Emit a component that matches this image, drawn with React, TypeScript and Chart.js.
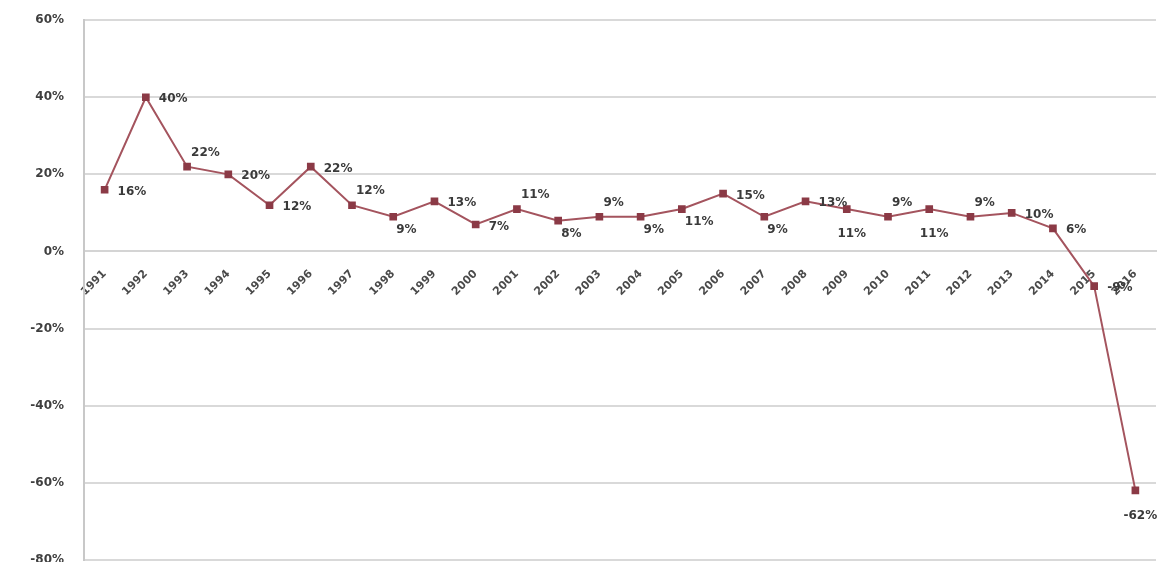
import React, { useEffect, useRef } from "react";
import { Chart, registerables } from "chart.js";

Chart.register(...registerables);

const years = [
  "1991", "1992", "1993", "1994", "1995", "1996", "1997", "1998", "1999", "2000",
  "2001", "2002", "2003", "2004", "2005", "2006", "2007", "2008", "2009", "2010",
  "2011", "2012", "2013", "2014", "2015", "2016",
];

const growth = [
  16, 40, 22, 20, 12, 22, 12, 9, 13, 7,
  11, 8, 9, 9, 11, 15, 9, 13, 11, 9,
  11, 9, 10, 6, -9, -62,
];

const labelPlacement = [
  "right", "right", "aboveRight", "right", "right", "right", "aboveRight", "belowRight", "right", "right",
  "aboveRight", "belowRight", "aboveRight", "belowRight", "belowRight", "right", "belowRight", "right", "below", "aboveRight",
  "below", "aboveRight", "right", "right", "right", "below",
];

const yTicks = [60, 40, 20, 0, -20, -40, -60, -80];

const FONT = "'DejaVu Sans', Verdana, sans-serif";

const pointLabelPlugin = {
  id: "pointLabelPlugin",
  afterDatasetsDraw(chart: any) {
    const meta = chart.getDatasetMeta(0);
    const ctx = chart.ctx;
    ctx.save();
    ctx.font = `bold 12px ${FONT}`;
    ctx.fillStyle = "#3a3a3a";
    meta.data.forEach((pt: any, i: number) => {
      const place = labelPlacement[i];
      let x = pt.x;
      let y = pt.y;
      let align: CanvasTextAlign = "left";
      if (place === "right") {
        x += 13;
        y += 2;
      } else if (place === "aboveRight") {
        x += 4;
        y -= 14;
      } else if (place === "belowRight") {
        x += 3;
        y += 13;
      } else if (place === "below") {
        x += 5;
        y += 25;
        align = "center";
      }
      ctx.textAlign = align;
      ctx.textBaseline = "middle";
      ctx.fillText(`${growth[i]}%`, x, y);
    });
    ctx.restore();
  },
};

export default function App() {
  const canvasRef = useRef<HTMLCanvasElement | null>(null);

  useEffect(() => {
    if (!canvasRef.current) return;
    const chart = new Chart(canvasRef.current, {
      type: "line",
      data: {
        labels: years,
        datasets: [
          {
            data: growth,
            borderColor: "#a4545e",
            borderWidth: 2,
            backgroundColor: "#8b3a46",
            pointBackgroundColor: "#8b3a46",
            pointBorderColor: "#8b3a46",
            pointStyle: "rect",
            pointRadius: 4,
            tension: 0,
            fill: false,
          },
        ],
      },
      options: {
        responsive: false,
        animation: false,
        maintainAspectRatio: false,
        layout: { padding: { top: 11, right: 6, bottom: 2, left: 0 } },
        plugins: {
          legend: { display: false },
          tooltip: { enabled: false },
        },
        scales: {
          x: {
            type: "category",
            position: { y: 0 } as any,
            offset: true,
            grid: { display: false, drawTicks: false },
            border: { display: true, color: "#d4d4d4", width: 2 },
            ticks: {
              autoSkip: false,
              minRotation: 45,
              maxRotation: 45,
              padding: 16,
              color: "#4a4a4a",
              font: { family: FONT, size: 11, weight: "bold" },
            },
          },
          y: {
            min: -80,
            max: 60,
            afterBuildTicks: (scale: any) => {
              scale.ticks = yTicks.map((v) => ({ value: v }));
            },
            afterFit: (scale: any) => {
              scale.width = 84;
            },
            grid: { color: "#d9d9d9", lineWidth: 2, drawTicks: false },
            border: { display: true, color: "#c8c8c8", width: 2 },
            ticks: {
              padding: 20,
              color: "#3f3f3f",
              font: { family: FONT, size: 12, weight: "bold" },
              callback: (v: any) => `${v}%`,
            },
          },
        },
      },
      plugins: [pointLabelPlugin],
    });
    return () => chart.destroy();
  }, []);

  return (
    <div style={{ position: "fixed", left: 0, top: 0, width: 1162, height: 562, overflow: "hidden", background: "#fff" }}>
      <canvas
        ref={canvasRef}
        width={1162}
        height={594}
        style={{ display: "block", position: "absolute", left: 0, top: -7 }}
      />
    </div>
  );
}
